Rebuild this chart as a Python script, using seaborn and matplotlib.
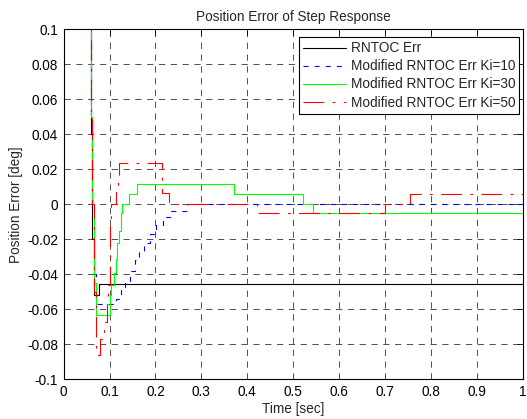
import numpy as np
import pandas as pd
import matplotlib
matplotlib.use("Agg")
import matplotlib.pyplot as plt
import seaborn as sns

# ---- data (step breakpoints) ----
t_rntoc = [0, 0.059, 0.062, 0.066, 0.077, 1.0]
e_rntoc = [0.15, 0.04, -0.02, -0.052, -0.0457, -0.0457]

t_ki10 = [0, 0.059, 0.062, 0.066, 0.070, 0.115, 0.124, 0.133, 0.145, 0.155, 0.164,
          0.174, 0.188, 0.202, 0.217, 0.233, 0.268, 1.0]
e_ki10 = [0.15, 0.05, 0.0, -0.04, -0.057, -0.054, -0.049, -0.044, -0.038, -0.032, -0.027,
          -0.022, -0.017, -0.012, -0.007, -0.004, 0.0, 0.0]

t_ki30 = [0, 0.059, 0.062, 0.066, 0.071, 0.100, 0.104, 0.110, 0.114, 0.117, 0.120,
          0.124, 0.127, 0.143, 0.159, 0.372, 0.521, 0.543, 1.0]
e_ki30 = [0.15, 0.05, 0.0, -0.045, -0.063, -0.052, -0.046, -0.039, -0.031, -0.022, -0.015,
          -0.005, 0.0, 0.006, 0.0117, 0.0059, 0.0, -0.005, -0.005]

t_ki50 = [0, 0.059, 0.062, 0.066, 0.070, 0.080, 0.088, 0.094, 0.097, 0.100, 0.102,
          0.104, 0.115, 0.118, 0.121, 0.214, 0.229, 0.421, 0.700, 0.755, 1.0]
e_ki50 = [0.15, 0.05, 0.0, -0.05, -0.086, -0.077, -0.067, -0.055, -0.046, -0.030, -0.012,
          0.0, 0.007, 0.015, 0.0234, 0.0063, 0.0, -0.005, 0.0, 0.006, 0.006]

labels = ["RNTOC Err", "Modified RNTOC Err Ki=10",
          "Modified RNTOC Err Ki=30", "Modified RNTOC Err Ki=50"]

x_ticks = [0, 0.1, 0.2, 0.3, 0.4, 0.5, 0.6, 0.7, 0.8, 0.9, 1.0]
x_ticklabels = ["0", "0.1", "0.2", "0.3", "0.4", "0.5", "0.6", "0.7", "0.8", "0.9", "1"]
y_ticks = [-0.1, -0.08, -0.06, -0.04, -0.02, 0, 0.02, 0.04, 0.06, 0.08, 0.1]
y_ticklabels = ["-0.1", "-0.08", "-0.06", "-0.04", "-0.02", "0", "0.02", "0.04", "0.06", "0.08", "0.1"]

# ---- style ----
FS = 9.8
sns.set_theme(style="white")
plt.rcParams["font.family"] = ["Liberation Sans", "DejaVu Sans"]
plt.rcParams["lines.scale_dashes"] = False
plt.rcParams["axes.edgecolor"] = "black"
plt.rcParams["axes.linewidth"] = 0.8

fig = plt.figure(figsize=(5.27, 4.19), dpi=100)
ax = fig.add_axes([63.7 / 527, 39.7 / 419, 458.8 / 527, 349.8 / 419])

series = [
    (t_rntoc, e_rntoc, "#000000", "-"),
    (t_ki10, e_ki10, "#0000ff", (0, (3.6, 4.4))),
    (t_ki30, e_ki30, "#00ff00", "-"),
    (t_ki50, e_ki50, "#ff0000", (0, (15, 6, 2, 6))),
]
for (t, e, c, ls), lab in zip(series, labels):
    sns.lineplot(x=t, y=e, ax=ax, color=c, linestyle=ls, linewidth=0.8,
                 drawstyle="steps-post", estimator=None, sort=False, label=lab)

ax.set_xlim(0, 1)
ax.set_ylim(-0.1, 0.1)
ax.set_xticks(x_ticks)
ax.set_xticklabels(x_ticklabels)
ax.set_yticks(y_ticks)
ax.set_yticklabels(y_ticklabels)
ax.tick_params(direction="in", length=4, width=0.6, top=True, right=True,
               labelsize=FS, colors="black", pad=4)
ax.grid(True, color="#333333", linestyle=(0, (4.5, 4.0)), linewidth=0.6)

ax.set_title("Position Error of Step Response", fontsize=FS, pad=6)
ax.set_xlabel("Time [sec]", fontsize=FS, labelpad=2)
ax.set_ylabel("Position Error [deg]", fontsize=FS, labelpad=3)

leg = ax.legend(loc="upper right", bbox_to_anchor=(0.993, 0.978), fontsize=FS,
                frameon=True, fancybox=False, framealpha=1, edgecolor="black",
                handlelength=3.1, handletextpad=0.37, labelspacing=0.3,
                borderpad=0.3, borderaxespad=0)
leg.get_frame().set_linewidth(0.8)

fig.savefig("out.png", dpi=100)
